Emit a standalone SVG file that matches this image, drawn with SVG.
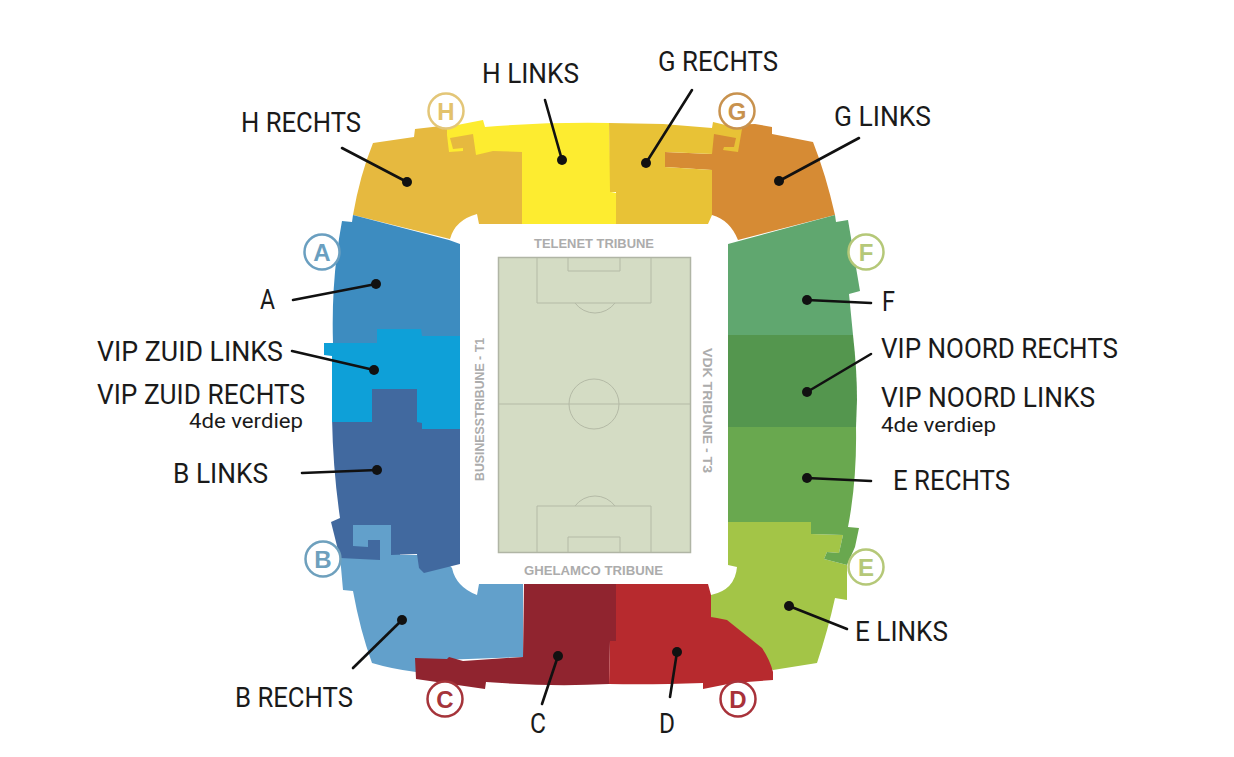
<svg xmlns="http://www.w3.org/2000/svg" width="1234" height="757" viewBox="0 0 1234 757">
<style>
.l{font-family:Roboto,"Liberation Sans",sans-serif;font-size:27px;fill:#1a1a1a}
.s{font-family:Roboto,"Liberation Sans",sans-serif;font-size:20px;fill:#1a1a1a}
.t{font-family:"Liberation Sans",Arial,sans-serif;font-size:12.5px;font-weight:bold;fill:#acacac}
.b{font-family:"Liberation Sans",Arial,sans-serif;font-size:24px;font-weight:bold;text-anchor:middle}
.c{fill:#fff;stroke-width:2.5}
.p{fill:none;stroke:#b4baa6;stroke-width:1}
#connectors line{stroke:#111;stroke-width:2.6;stroke-linecap:round}
#connectors circle{fill:#111;r:5px}
</style>
<rect width="1234" height="757" fill="#fff"/>

<g id="sec-b-rechts">
<path fill="#62a0cb" d="M340 556L343 590L353 591Q360 630 372 663Q392 669 416 672L440 660L523 657L523 584L479 584L477 595Q456 587 452 568L440 555L400 555L400 518L345 518L345 556Z"/>
<text class="l" x="235" y="707" textLength="118" lengthAdjust="spacingAndGlyphs">B RECHTS</text>
</g>
<g id="sec-h-rechts">
<path fill="#e6b93f" d="M373 143L414 137L415 129L450 125L522 150L522 224L479 224L477 214Q455 220 450 239L353 215Q360 175 373 143Z"/>
<text class="l" x="241" y="132" textLength="120" lengthAdjust="spacingAndGlyphs">H RECHTS</text>
</g>
<g id="sec-h-links">
<path fill="#fdec30" d="M447 127L483 120L485 127Q545 122 609 123L611 192L616 193L616 224L522 224L522 152L493 151L476 155L473 134L450 138L453 149L463 148L463 151L449 152L447 135Z"/>
<text class="l" x="482" y="83" textLength="97" lengthAdjust="spacingAndGlyphs">H LINKS</text>
</g>
<g id="sec-g-links">
<path fill="#d68b34" d="M720 125L755 124L772 127L772 134L813 142Q826 175 835 215L738 240Q730 220 712 215L712 170L665 167L665 152L712 154L712 128Z"/>
<text class="l" x="834" y="126" textLength="97" lengthAdjust="spacingAndGlyphs">G LINKS</text>
</g>
<g id="sec-g-rechts">
<path fill="#e8c236" d="M609 123L663 124L712 128L713 122L742 129L738 152L723 150L724 147L734 147L736 138L714 134L712 154L665 152L665 167L712 170L712 215L708 224L616 224L616 192L610 192Z"/>
<text class="l" x="658" y="71" textLength="120" lengthAdjust="spacingAndGlyphs">G RECHTS</text>
</g>
<g id="sec-a">
<path fill="#3d8cc0" d="M342 221L352 222L353 215L449 240L460 244L460 340L333 350L333 343Q331 280 342 221Z"/>
<text class="l" x="260" y="309" textLength="15" lengthAdjust="spacingAndGlyphs">A</text>
</g>
<g id="sec-b-links">
<path fill="#41699f" d="M332 418L372 385L417 385L460 418L460 564L424 573L419 568L417 554L391 555L391 525L353 525L353 546L368 547L368 540L380 540L380 560L340 558L331 522L340 518Q333 470 332 418Z"/>
<text class="l" x="173" y="483" textLength="95" lengthAdjust="spacingAndGlyphs">B LINKS</text>
</g>
<g id="sec-vip-zuid">
<path fill="#0ea0d8" d="M324 343L377 343L377 329L421 329L422 336L460 336L460 429L422 429L422 423L417 422L417 389L372 389L372 422L332 422L332 356L324 355Z"/>
<text class="l" x="97" y="361" textLength="186" lengthAdjust="spacingAndGlyphs">VIP ZUID LINKS</text>
<text class="l" x="97" y="404" textLength="208" lengthAdjust="spacingAndGlyphs">VIP ZUID RECHTS</text>
<text class="s" x="189" y="428" textLength="114" lengthAdjust="spacingAndGlyphs">4de verdiep</text>
</g>
<g id="sec-c">
<path fill="#90242f" d="M524 584L616 584L616 641L610 641L609 684Q550 687 486 682L485 689L416 679L415 658L447 659L449 657L463 661L523 657Z"/>
<text class="l" x="530" y="733" textLength="16" lengthAdjust="spacingAndGlyphs">C</text>
</g>
<g id="sec-e-links">
<path fill="#a3c547" d="M728 522L811 522L811 534L843 535L839 553L827 552L824 559L847 565L847 600L835 598Q828 630 817 663L773 670L740 650L711 617L711 595Q735 590 737 567L728 565Z"/>
<text class="l" x="855" y="641" textLength="93" lengthAdjust="spacingAndGlyphs">E LINKS</text>
</g>
<g id="sec-d">
<path fill="#b72a2e" d="M616 584L708 584L711 595L711 617L717 618L727 620L762 648Q770 660 773 672L773 680L733 683L703 689L703 683Q650 685 609 684L610 641L616 641Z"/>
<text class="l" x="659" y="733" textLength="16" lengthAdjust="spacingAndGlyphs">D</text>
</g>
<g id="sec-e-rechts">
<path fill="#69a84f" d="M728 427L856 427Q857 480 848 527L859 528L855 547L847 565L824 559L827 552L839 553L843 535L811 534L811 522L728 522Z"/>
<text class="l" x="893" y="490" textLength="117" lengthAdjust="spacingAndGlyphs">E RECHTS</text>
</g>
<g id="sec-vip-noord">
<path fill="#54964e" d="M728 335L853 335Q857 370 857 400L856 427L728 427Z"/>
<text class="l" x="881" y="358" textLength="237" lengthAdjust="spacingAndGlyphs">VIP NOORD RECHTS</text>
<text class="l" x="881" y="407" textLength="214" lengthAdjust="spacingAndGlyphs">VIP NOORD LINKS</text>
<text class="s" x="881" y="432" textLength="115" lengthAdjust="spacingAndGlyphs">4de verdiep</text>
</g>
<g id="sec-f">
<path fill="#60a76f" d="M728 244L835 215L836 222L848 220L860 291L849 294L853 335L728 335Z"/>
<text class="l" x="882" y="311" textLength="13" lengthAdjust="spacingAndGlyphs">F</text>
</g>

<g id="pitch">
<rect x="498.500" y="257.500" width="192" height="295" fill="#d4dcc4" stroke="#b0b5a5" stroke-width="1.500"/>
<path class="p" d="M537 258V303H651V258M568 258V271H620V258M575 303A25 25 0 0 0 615 303M537 552V506H651V552M568 552V537H620V552M575 506A25 25 0 0 1 615 506M499 404H690"/>
<circle class="p" cx="594" cy="404" r="25"/>
<text class="t" x="534" y="248" textLength="120" lengthAdjust="spacingAndGlyphs">TELENET TRIBUNE</text>
<text class="t" x="524" y="575" textLength="139" lengthAdjust="spacingAndGlyphs">GHELAMCO TRIBUNE</text>
<text class="t" transform="translate(484 481) rotate(-90)" textLength="143" lengthAdjust="spacingAndGlyphs">BUSINESSTRIBUNE - T1</text>
<text class="t" transform="translate(703 348) rotate(90)" textLength="125" lengthAdjust="spacingAndGlyphs">VDK TRIBUNE - T3</text>
</g>

<g id="badge-h"><circle class="c" cx="446" cy="111" r="17.500" stroke="#e3c678"/><text class="b" x="446" y="120" fill="#e3c26c">H</text></g>
<g id="badge-g"><circle class="c" cx="737" cy="111" r="17.500" stroke="#c8924e"/><text class="b" x="737" y="120" fill="#c8924e">G</text></g>
<g id="badge-a"><circle class="c" cx="322" cy="252" r="17.500" stroke="#6a9fc0"/><text class="b" x="322" y="261" fill="#6a9fc0">A</text></g>
<g id="badge-b"><circle class="c" cx="323" cy="559" r="17.500" stroke="#6ea0bd"/><text class="b" x="323" y="568" fill="#6ea0bd">B</text></g>
<g id="badge-c"><circle class="c" cx="445" cy="699" r="17.500" stroke="#a5343a"/><text class="b" x="445" y="708" fill="#a5343a">C</text></g>
<g id="badge-d"><circle class="c" cx="738" cy="699" r="17.500" stroke="#a8323a"/><text class="b" x="738" y="708" fill="#a8323a">D</text></g>
<g id="badge-e"><circle class="c" cx="866" cy="567" r="17.500" stroke="#b5c878"/><text class="b" x="866" y="576" fill="#b5c878">E</text></g>
<g id="badge-f"><circle class="c" cx="866" cy="252" r="17.500" stroke="#b5c878"/><text class="b" x="866" y="261" fill="#b5c878">F</text></g>

<g id="connectors">
<line x1="342" y1="148" x2="407" y2="182"/><circle cx="407" cy="182"/>
<line x1="545" y1="100" x2="562" y2="160"/><circle cx="562" cy="160"/>
<line x1="692" y1="90" x2="646" y2="163"/><circle cx="646" cy="163"/>
<line x1="859" y1="138" x2="779" y2="181"/><circle cx="779" cy="181"/>
<line x1="293" y1="300" x2="376" y2="284"/><circle cx="376" cy="284"/>
<line x1="292" y1="351" x2="374" y2="370"/><circle cx="374" cy="370"/>
<line x1="302" y1="473" x2="377" y2="470"/><circle cx="377" cy="470"/>
<line x1="353" y1="668" x2="402" y2="620"/><circle cx="402" cy="620"/>
<line x1="542" y1="704" x2="558" y2="656"/><circle cx="558" cy="656"/>
<line x1="670" y1="697" x2="677" y2="652"/><circle cx="677" cy="652"/>
<line x1="847" y1="629" x2="789" y2="606"/><circle cx="789" cy="606"/>
<line x1="871" y1="481" x2="807" y2="478"/><circle cx="807" cy="478"/>
<line x1="871" y1="303" x2="807" y2="300"/><circle cx="807" cy="300"/>
<line x1="871" y1="354" x2="807" y2="392"/><circle cx="807" cy="392"/>
</g>
</svg>
